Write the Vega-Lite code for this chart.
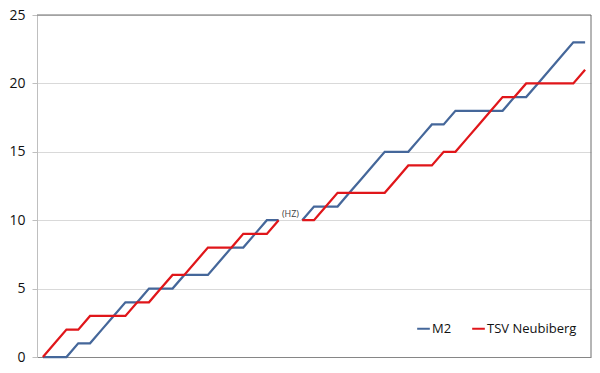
{
  "$schema": "https://vega.github.io/schema/vega-lite/v6.json",
  "width": 554,
  "height": 342,
  "autosize": {"type": "none"},
  "padding": {"left": 37, "top": 15, "right": 9, "bottom": 16},
  "background": "white",
  "config": {
    "view": {"stroke": null},
    "font": "Open Sans",
    "axis": {"labelFont": "Open Sans", "labelFontSize": 14, "labelColor": "#111111"}
  },
  "datasets": {
    "goals": [
      {"i": 0, "half": 1, "M2": 0, "TSV Neubiberg": 0},
      {"i": 1, "half": 1, "M2": 0, "TSV Neubiberg": 1},
      {"i": 2, "half": 1, "M2": 0, "TSV Neubiberg": 2},
      {"i": 3, "half": 1, "M2": 1, "TSV Neubiberg": 2},
      {"i": 4, "half": 1, "M2": 1, "TSV Neubiberg": 3},
      {"i": 5, "half": 1, "M2": 2, "TSV Neubiberg": 3},
      {"i": 6, "half": 1, "M2": 3, "TSV Neubiberg": 3},
      {"i": 7, "half": 1, "M2": 4, "TSV Neubiberg": 3},
      {"i": 8, "half": 1, "M2": 4, "TSV Neubiberg": 4},
      {"i": 9, "half": 1, "M2": 5, "TSV Neubiberg": 4},
      {"i": 10, "half": 1, "M2": 5, "TSV Neubiberg": 5},
      {"i": 11, "half": 1, "M2": 5, "TSV Neubiberg": 6},
      {"i": 12, "half": 1, "M2": 6, "TSV Neubiberg": 6},
      {"i": 13, "half": 1, "M2": 6, "TSV Neubiberg": 7},
      {"i": 14, "half": 1, "M2": 6, "TSV Neubiberg": 8},
      {"i": 15, "half": 1, "M2": 7, "TSV Neubiberg": 8},
      {"i": 16, "half": 1, "M2": 8, "TSV Neubiberg": 8},
      {"i": 17, "half": 1, "M2": 8, "TSV Neubiberg": 9},
      {"i": 18, "half": 1, "M2": 9, "TSV Neubiberg": 9},
      {"i": 19, "half": 1, "M2": 10, "TSV Neubiberg": 9},
      {"i": 20, "half": 1, "M2": 10, "TSV Neubiberg": 10},
      {"i": 22, "half": 2, "M2": 10, "TSV Neubiberg": 10},
      {"i": 23, "half": 2, "M2": 11, "TSV Neubiberg": 10},
      {"i": 24, "half": 2, "M2": 11, "TSV Neubiberg": 11},
      {"i": 25, "half": 2, "M2": 11, "TSV Neubiberg": 12},
      {"i": 26, "half": 2, "M2": 12, "TSV Neubiberg": 12},
      {"i": 27, "half": 2, "M2": 13, "TSV Neubiberg": 12},
      {"i": 28, "half": 2, "M2": 14, "TSV Neubiberg": 12},
      {"i": 29, "half": 2, "M2": 15, "TSV Neubiberg": 12},
      {"i": 30, "half": 2, "M2": 15, "TSV Neubiberg": 13},
      {"i": 31, "half": 2, "M2": 15, "TSV Neubiberg": 14},
      {"i": 32, "half": 2, "M2": 16, "TSV Neubiberg": 14},
      {"i": 33, "half": 2, "M2": 17, "TSV Neubiberg": 14},
      {"i": 34, "half": 2, "M2": 17, "TSV Neubiberg": 15},
      {"i": 35, "half": 2, "M2": 18, "TSV Neubiberg": 15},
      {"i": 36, "half": 2, "M2": 18, "TSV Neubiberg": 16},
      {"i": 37, "half": 2, "M2": 18, "TSV Neubiberg": 17},
      {"i": 38, "half": 2, "M2": 18, "TSV Neubiberg": 18},
      {"i": 39, "half": 2, "M2": 18, "TSV Neubiberg": 19},
      {"i": 40, "half": 2, "M2": 19, "TSV Neubiberg": 19},
      {"i": 41, "half": 2, "M2": 19, "TSV Neubiberg": 20},
      {"i": 42, "half": 2, "M2": 20, "TSV Neubiberg": 20},
      {"i": 43, "half": 2, "M2": 21, "TSV Neubiberg": 20},
      {"i": 44, "half": 2, "M2": 22, "TSV Neubiberg": 20},
      {"i": 45, "half": 2, "M2": 23, "TSV Neubiberg": 20},
      {"i": 46, "half": 2, "M2": 23, "TSV Neubiberg": 21}
    ],
    "notes": [
      {"i": 21, "score": 10, "label": "(HZ)"}
    ]
  },
  "layer": [
    {
      "data": {"name": "goals"},
      "transform": [{"fold": ["M2", "TSV Neubiberg"], "as": ["team", "score"]}],
      "mark": {"type": "line", "strokeWidth": 2.25, "strokeJoin": "miter"},
      "encoding": {
        "x": {
          "field": "i", "type": "quantitative",
          "scale": {"domain": [-0.5, 46.5], "nice": false, "zero": false},
          "axis": {"title": null, "labels": false, "ticks": false, "grid": false, "domainColor": "#868686", "domainWidth": 1}
        },
        "y": {
          "field": "score", "type": "quantitative",
          "scale": {"domain": [0, 25], "nice": false},
          "axis": {
            "title": null, "values": [0, 5, 10, 15, 20, 25],
            "grid": true, "gridColor": "#d9d9d9", "gridWidth": 1,
            "domainColor": "#bfbfbf", "tickColor": "#bfbfbf", "tickSize": 5,
            "labelPadding": 7
          }
        },
        "color": {
          "field": "team", "type": "nominal",
          "scale": {"domain": ["M2", "TSV Neubiberg"], "range": ["#45679a", "#e0161a"]},
          "legend": {
            "title": null, "orient": "none", "direction": "horizontal",
            "legendX": 379, "legendY": 306,
            "symbolType": "stroke", "symbolSize": 160, "symbolStrokeWidth": 2,
            "labelFont": "Open Sans", "labelFontSize": 13, "labelColor": "#111111",
            "labelOffset": 1, "columnPadding": 16
          }
        },
        "detail": {"field": "half", "type": "nominal"}
      }
    },
    {
      "data": {"name": "notes"},
      "mark": {"type": "text", "fontSize": 9, "color": "#404040", "dy": -6},
      "encoding": {
        "x": {"field": "i", "type": "quantitative"},
        "y": {"field": "score", "type": "quantitative"},
        "text": {"field": "label"}
      }
    },
    {
      "data": {"values": [{"v": 25}]},
      "mark": {"type": "rule", "color": "#6d6d6d", "strokeWidth": 1},
      "encoding": {"y": {"field": "v", "type": "quantitative"}}
    },
    {
      "data": {"values": [{"v": 46.5}]},
      "mark": {"type": "rule", "color": "#6d6d6d", "strokeWidth": 1},
      "encoding": {"x": {"field": "v", "type": "quantitative"}}
    }
  ]
}
